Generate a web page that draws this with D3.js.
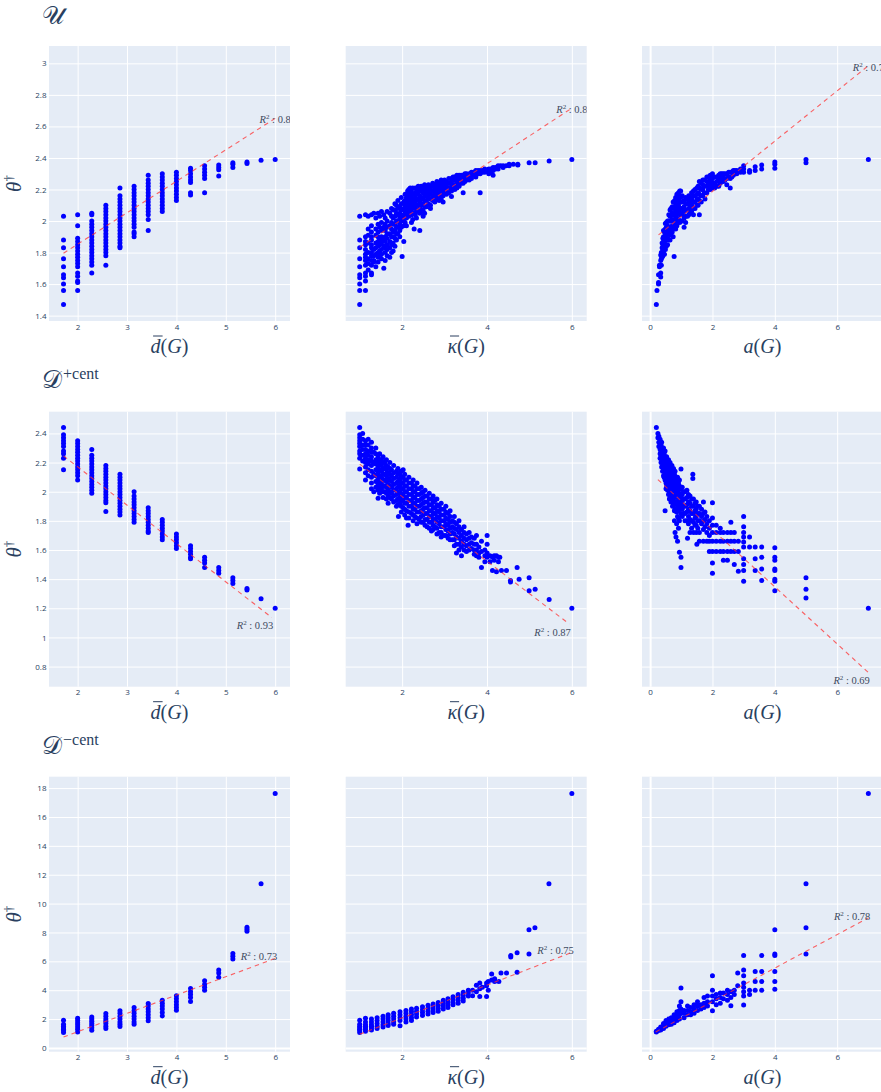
<!DOCTYPE html>
<html>
<head>
<meta charset="utf-8">
<script src="https://cdn.jsdelivr.net/npm/d3@7"></script>
<style>
	body { margin: 0; background: #fff; }
	svg { display: block; }
</style>
</head>
<body>
<div id="chart"></div>
<script>
//	x positions of the d(G) columns (multiples of 2/7)
var dbarX = [1.714, 2, 2.286, 2.571, 2.857, 3.143, 3.429, 3.714, 4, 4.286, 4.571, 4.857, 5.143, 5.429, 5.714, 6];

//	theta per d(G) column
var dbarU = [
	[2.03, 1.88, 1.83, 1.76, 1.71, 1.66, 1.64, 1.60, 1.56, 1.47],
	[2.04, 1.97, 1.89, 1.87, 1.85, 1.83, 1.81, 1.79, 1.77, 1.75, 1.73, 1.71, 1.67, 1.65, 1.62, 1.61, 1.56],
	[2.05, 2.04, 2.0, 1.98, 1.96, 1.94, 1.92, 1.90, 1.88, 1.86, 1.84, 1.82, 1.80, 1.78, 1.76, 1.74, 1.72, 1.67],
	[2.10, 2.08, 2.06, 2.04, 2.02, 2.0, 1.98, 1.96, 1.94, 1.92, 1.90, 1.88, 1.86, 1.84, 1.82, 1.80, 1.78, 1.72],
	[2.21, 2.16, 2.14, 2.12, 2.10, 2.08, 2.06, 2.04, 2.02, 2.0, 1.98, 1.96, 1.94, 1.92, 1.90, 1.88, 1.86, 1.84, 1.83],
	[2.22, 2.20, 2.18, 2.16, 2.14, 2.12, 2.10, 2.08, 2.06, 2.04, 2.02, 2.0, 1.98, 1.96, 1.93, 1.92, 1.90],
	[2.29, 2.26, 2.24, 2.22, 2.20, 2.18, 2.16, 2.14, 2.12, 2.10, 2.08, 2.06, 2.04, 2.01, 1.94],
	[2.30, 2.28, 2.26, 2.24, 2.22, 2.20, 2.18, 2.16, 2.14, 2.12, 2.10, 2.08, 2.06],
	[2.31, 2.29, 2.27, 2.25, 2.23, 2.21, 2.19, 2.17, 2.15, 2.13],
	[2.335, 2.32, 2.30, 2.28, 2.26, 2.245, 2.18, 2.165],
	[2.35, 2.33, 2.31, 2.29, 2.27, 2.18],
	[2.355, 2.34, 2.325, 2.285],
	[2.37, 2.36, 2.34],
	[2.375, 2.365],
	[2.385],
	[2.39]
];
var dbarP = [
	[2.44, 2.39, 2.37, 2.35, 2.33, 2.31, 2.28, 2.26, 2.23, 2.15],
	[2.35, 2.33, 2.31, 2.29, 2.27, 2.25, 2.23, 2.21, 2.19, 2.17, 2.15, 2.13, 2.11, 2.08],
	[2.29, 2.25, 2.23, 2.21, 2.19, 2.17, 2.15, 2.13, 2.11, 2.09, 2.07, 2.05, 2.03, 2.01, 1.99],
	[2.18, 2.16, 2.14, 2.12, 2.10, 2.08, 2.06, 2.04, 2.02, 2.0, 1.98, 1.96, 1.94, 1.925, 1.865],
	[2.12, 2.10, 2.08, 2.06, 2.04, 2.02, 2.0, 1.98, 1.96, 1.94, 1.92, 1.90, 1.88, 1.86, 1.84],
	[2.0, 1.97, 1.95, 1.93, 1.91, 1.89, 1.87, 1.85, 1.83, 1.81, 1.79],
	[1.89, 1.87, 1.85, 1.83, 1.81, 1.79, 1.77, 1.75, 1.73, 1.72],
	[1.81, 1.79, 1.77, 1.75, 1.73, 1.71, 1.69, 1.67],
	[1.71, 1.69, 1.67, 1.65, 1.63, 1.61],
	[1.63, 1.61, 1.59, 1.57, 1.55, 1.54],
	[1.55, 1.53, 1.51, 1.48],
	[1.48, 1.46, 1.44],
	[1.41, 1.39, 1.37],
	[1.335, 1.325],
	[1.265],
	[1.20]
];
var dbarM = [
	[1.92, 1.64, 1.5, 1.4, 1.3, 1.2, 1.07],
	[2.06, 1.9, 1.75, 1.6, 1.45, 1.3, 1.11],
	[2.15, 2.0, 1.85, 1.7, 1.55, 1.4, 1.23],
	[2.39, 2.2, 2.0, 1.85, 1.7, 1.5, 1.34],
	[2.57, 2.4, 2.2, 2.0, 1.8, 1.65, 1.48],
	[2.8, 2.6, 2.4, 2.2, 2.0, 1.8, 1.64],
	[3.08, 2.9, 2.7, 2.5, 2.3, 2.1, 1.88],
	[3.31, 3.1, 2.9, 2.7, 2.45, 2.22],
	[3.61, 3.4, 3.2, 3.0, 2.8, 2.62],
	[4.12, 3.9, 3.7, 3.5, 3.22],
	[4.65, 4.4, 4.2, 4.0],
	[5.4, 5.2, 4.9],
	[6.55, 6.35, 6.16],
	[8.36, 8.22, 8.08],
	[11.37],
	[17.63]
];

//	[kappa, [theta...]]
var kappaU = [
	[1.0, [2.03, 1.88, 1.83, 1.76, 1.71, 1.66, 1.64, 1.60, 1.56, 1.47]],
	[1.136, [2.04, 1.90, 1.87, 1.85, 1.82, 1.79, 1.77, 1.75, 1.72, 1.67, 1.65, 1.62, 1.56]],
	[1.2, [2.03, 1.95, 1.91, 1.86, 1.80, 1.76, 1.73, 1.69]],
	[1.277, [2.04, 1.97, 1.93, 1.90, 1.88, 1.85, 1.83, 1.80, 1.78, 1.75, 1.72, 1.67, 1.66]],
	[1.332, [2.05, 1.82, 1.78, 1.75, 1.74]],
	[1.38, [2.02, 1.95, 1.91, 1.86, 1.83, 1.79, 1.71]],
	[1.434, [2.05, 1.98, 1.93, 1.90, 1.87, 1.84, 1.80, 1.77, 1.74]],
	[1.47, [2.03, 1.96, 1.88, 1.85, 1.81, 1.78]],
	[1.513, [2.06, 1.99, 1.94, 1.90, 1.86, 1.82, 1.79, 1.76]],
	[1.568, [2.04, 1.96, 1.88, 1.84, 1.70]],
	[1.6, [2.02, 1.98, 1.94, 1.90, 1.87, 1.83, 1.80, 1.75]],
	[1.646, [2.06, 2.00, 1.96, 1.92, 1.89, 1.85, 1.82, 1.78]],
	[1.709, [2.05, 1.97, 1.92, 1.87, 1.83, 1.77]],
	[1.75, [2.08, 2.03, 1.99, 1.95, 1.90, 1.85, 1.80]],
	[1.788, [2.07, 2.02, 1.98, 1.93, 1.90, 1.86, 1.81]],
	[1.83, [2.11, 2.07, 2.03, 1.98, 1.94, 1.89, 1.84]],
	[1.866, [2.10, 2.05, 2.00, 1.96, 1.92, 1.88]],
	[1.9, [2.13, 2.08, 2.04, 2.0, 1.96, 1.92]],
	[1.945, [2.09, 2.05, 2.02, 1.98, 1.94, 1.90]],
	[1.98, [2.15, 2.11, 2.07, 2.03, 2.0, 1.96]],
	[2.0, [1.775]],
	[2.039, [2.12, 2.08, 2.04, 2.01, 1.97, 1.87]],
	[2.07, [2.17, 2.13, 2.10, 2.06, 2.03, 1.99]],
	[2.102, [2.15, 2.12, 2.08, 2.05, 2.02, 1.97]],
	[2.13, [2.19, 2.16, 2.11, 2.07, 2.04]],
	[2.157, [2.20, 2.18, 2.14, 2.10, 2.06, 2.03]],
	[2.19, [2.21, 2.17, 2.13, 2.09, 2.05]],
	[2.22, [2.19, 2.15, 2.11, 2.07, 2.04, 1.99]],
	[2.25, [2.21, 2.17, 2.13, 2.09, 2.05, 2.01]],
	[2.283, [2.13, 2.09, 1.95]],
	[2.31, [2.21, 2.18, 2.15, 2.11, 2.08, 2.04]],
	[2.338, [2.20, 2.17, 2.13, 2.10, 2.06, 2.02]],
	[2.38, [2.22, 2.18, 2.14, 2.10, 2.07]],
	[2.416, [2.20, 2.16, 2.12, 2.08, 2.05, 1.94]],
	[2.45, [2.22, 2.19, 2.14, 2.10, 2.06]],
	[2.495, [2.21, 2.18, 2.15, 2.11, 2.07, 2.03]],
	[2.53, [2.23, 2.20, 2.17, 2.13, 2.09, 2.05]],
	[2.573, [2.22, 2.19, 2.16, 2.13, 2.09]],
	[2.62, [2.23, 2.21, 2.18, 2.15, 2.11]],
	[2.668, [2.22, 2.20, 2.17, 2.14, 2.10, 2.08]],
	[2.72, [2.24, 2.22, 2.19, 2.16, 2.13]],
	[2.77, [2.23, 2.21, 2.18, 2.15, 2.12]],
	[2.82, [2.25, 2.22, 2.20, 2.17, 2.14]],
	[2.872, [2.24, 2.21, 2.19, 2.16, 2.13]],
	[2.92, [2.26, 2.23, 2.20, 2.17, 2.14]],
	[2.966, [2.25, 2.22, 2.19, 2.16, 2.12]],
	[3.0, [2.26, 2.24, 2.21, 2.18]],
	[3.045, [2.25, 2.23, 2.20, 2.17]],
	[3.1, [2.27, 2.24, 2.21, 2.18]],
	[3.163, [2.27, 2.25, 2.22, 2.19, 2.155]],
	[3.2, [2.28, 2.26, 2.23, 2.21]],
	[3.241, [2.28, 2.26, 2.23, 2.20]],
	[3.29, [2.29, 2.26, 2.24, 2.21]],
	[3.343, [2.29, 2.27, 2.25, 2.22]],
	[3.39, [2.29, 2.27, 2.24]],
	[3.438, [2.29, 2.27, 2.24, 2.18]],
	[3.48, [2.30, 2.28, 2.25]],
	[3.516, [2.30, 2.28, 2.26]],
	[3.58, [2.30, 2.28, 2.26]],
	[3.634, [2.31, 2.29, 2.27]],
	[3.68, [2.31, 2.29]],
	[3.736, [2.32, 2.30, 2.28]],
	[3.79, [2.32, 2.30]],
	[3.839, [2.32, 2.30, 2.18]],
	[3.89, [2.32, 2.31]],
	[3.949, [2.33, 2.31]],
	[4.042, [2.33, 2.32, 2.30]],
	[4.09, [2.33, 2.31]],
	[4.144, [2.34, 2.32, 2.29]],
	[4.2, [2.34, 2.33]],
	[4.262, [2.35, 2.33]],
	[4.32, [2.35]],
	[4.38, [2.35, 2.34]],
	[4.45, [2.35]],
	[4.522, [2.36, 2.35]],
	[4.62, [2.36]],
	[4.726, [2.36, 2.355]],
	[4.993, [2.37]],
	[5.135, [2.37]],
	[5.465, [2.38]],
	[6.0, [2.39]]
];
var kappaP = [
	[1.0, [2.44, 2.39, 2.37, 2.35, 2.33, 2.31, 2.28, 2.26, 2.23, 2.155]],
	[1.07, [2.40, 2.36, 2.32, 2.29, 2.25, 2.21]],
	[1.136, [2.35, 2.32, 2.29, 2.26, 2.23, 2.20, 2.17, 2.13, 2.08]],
	[1.2, [2.36, 2.32, 2.28, 2.25, 2.22, 2.19, 2.15, 2.11]],
	[1.277, [2.34, 2.30, 2.27, 2.24, 2.21, 2.18, 2.14, 2.10, 2.06, 2.02]],
	[1.332, [2.27, 2.20, 2.12, 2.0]],
	[1.38, [2.30, 2.26, 2.22, 2.19, 2.15, 2.11, 2.07, 2.03]],
	[1.434, [2.24, 2.21, 2.17, 2.13, 2.09, 2.05, 2.01, 1.955]],
	[1.47, [2.26, 2.22, 2.19, 2.15, 2.11, 2.07, 2.03, 1.99]],
	[1.513, [2.22, 2.18, 2.14, 2.10, 2.06, 2.02]],
	[1.55, [2.24, 2.20, 2.16, 2.12, 2.08, 2.04, 2.0, 1.96]],
	[1.591, [2.20, 2.16, 2.12, 2.08, 2.04, 2.0]],
	[1.63, [2.22, 2.18, 2.15, 2.11, 2.07, 2.03, 1.99, 1.95]],
	[1.67, [2.17, 2.13, 2.09, 2.05, 2.01, 1.97, 1.92]],
	[1.71, [2.20, 2.16, 2.12, 2.08, 2.04, 2.0, 1.96]],
	[1.749, [2.15, 2.11, 2.07, 2.03, 1.99, 1.95]],
	[1.8, [2.18, 2.13, 2.09, 2.05, 2.01, 1.97, 1.93]],
	[1.866, [2.14, 2.10, 2.06, 2.02, 1.98, 1.94, 1.90]],
	[1.9, [2.16, 2.12, 2.07, 2.03, 1.99, 1.95, 1.91]],
	[1.914, [1.83]],
	[1.945, [2.12, 2.08, 2.04, 2.0, 1.96, 1.92]],
	[1.98, [2.14, 2.10, 2.06, 2.02, 1.98, 1.94, 1.90, 1.86]],
	[2.024, [2.15, 2.10, 2.06, 2.02, 1.98, 1.94, 1.89]],
	[2.06, [2.12, 2.08, 2.04, 2.0, 1.96, 1.92, 1.88, 1.84]],
	[2.102, [2.08, 2.04, 2.00, 1.96, 1.92, 1.87, 1.82]],
	[2.141, [1.77]],
	[2.16, [2.10, 2.06, 2.02, 1.98, 1.94, 1.90, 1.86, 1.82]],
	[2.22, [2.06, 2.02, 1.98, 1.94, 1.90, 1.85]],
	[2.26, [2.08, 2.04, 2.0, 1.96, 1.92, 1.88, 1.84, 1.80]],
	[2.299, [2.04, 2.0, 1.96, 1.92, 1.88, 1.83]],
	[2.35, [2.06, 2.02, 1.98, 1.94, 1.90, 1.86, 1.82, 1.78]],
	[2.401, [2.02, 1.98, 1.94, 1.90, 1.86, 1.81]],
	[2.45, [2.03, 1.99, 1.95, 1.91, 1.87, 1.83, 1.79]],
	[2.495, [2.0, 1.96, 1.92, 1.88, 1.84, 1.79]],
	[2.54, [2.01, 1.97, 1.93, 1.89, 1.85, 1.81, 1.77]],
	[2.589, [1.97, 1.93, 1.89, 1.85, 1.81, 1.76]],
	[2.64, [1.99, 1.95, 1.91, 1.87, 1.83, 1.79, 1.75]],
	[2.691, [1.95, 1.91, 1.87, 1.83, 1.79, 1.73]],
	[2.73, [1.97, 1.93, 1.89, 1.85, 1.81, 1.77, 1.74]],
	[2.77, [1.94, 1.89, 1.85, 1.81, 1.76]],
	[2.82, [1.95, 1.91, 1.87, 1.83, 1.79, 1.75, 1.71]],
	[2.872, [1.90, 1.86, 1.82, 1.78, 1.72]],
	[2.92, [1.92, 1.88, 1.84, 1.80, 1.76, 1.72, 1.69]],
	[2.982, [1.88, 1.84, 1.80, 1.76, 1.70]],
	[3.03, [1.90, 1.86, 1.82, 1.78, 1.74, 1.70]],
	[3.084, [1.85, 1.81, 1.77, 1.73, 1.68]],
	[3.13, [1.87, 1.83, 1.79, 1.75, 1.71, 1.67]],
	[3.186, [1.80, 1.76, 1.72, 1.67]],
	[3.23, [1.83, 1.79, 1.75, 1.71, 1.67, 1.63]],
	[3.28, [1.78, 1.74, 1.69, 1.64, 1.58]],
	[3.34, [1.80, 1.76, 1.72, 1.68, 1.64, 1.60]],
	[3.398, [1.74, 1.70, 1.66, 1.62, 1.56]],
	[3.46, [1.76, 1.72, 1.68, 1.64, 1.60]],
	[3.516, [1.71, 1.67, 1.63, 1.59]],
	[3.58, [1.72, 1.68, 1.64, 1.60]],
	[3.634, [1.69, 1.65, 1.61]],
	[3.7, [1.68, 1.64, 1.60, 1.57]],
	[3.752, [1.70, 1.64, 1.60, 1.56]],
	[3.81, [1.62, 1.58, 1.55]],
	[3.87, [1.66, 1.59, 1.48]],
	[3.95, [1.60, 1.56, 1.52]],
	[4.003, [1.70, 1.64, 1.58, 1.55]],
	[4.07, [1.56, 1.52]],
	[4.129, [1.55, 1.46]],
	[4.17, [1.56, 1.53]],
	[4.223, [1.56, 1.45]],
	[4.27, [1.55, 1.52]],
	[4.302, [1.55]],
	[4.341, [1.46]],
	[4.459, [1.46]],
	[4.553, [1.39, 1.38]],
	[4.71, [1.48]],
	[4.757, [1.40]],
	[4.993, [1.41, 1.32]],
	[5.135, [1.33]],
	[5.465, [1.26]],
	[6.0, [1.20]]
];
var kappaM = [
	[1.0, [1.92, 1.64, 1.5, 1.4, 1.3, 1.2, 1.07]],
	[1.136, [2.06, 1.8, 1.6, 1.5, 1.4, 1.3, 1.15]],
	[1.277, [2.0, 1.8, 1.6, 1.5, 1.4, 1.25]],
	[1.41, [2.1, 1.9, 1.7, 1.5, 1.35]],
	[1.55, [2.2, 2.0, 1.8, 1.6, 1.45]],
	[1.67, [2.3, 2.1, 1.9, 1.7, 1.55]],
	[1.80, [2.4, 2.2, 2.0, 1.8, 1.65]],
	[1.95, [2.5, 2.3, 2.1, 1.9, 1.53]],
	[2.09, [2.6, 2.4, 2.2, 2.0, 1.8]],
	[2.22, [2.7, 2.5, 2.3, 2.1, 1.9]],
	[2.34, [2.75, 2.55, 2.35, 2.15]],
	[2.48, [2.85, 2.65, 2.45, 2.25]],
	[2.61, [2.95, 2.75, 2.55, 2.35]],
	[2.73, [3.05, 2.85, 2.65, 2.45]],
	[2.85, [3.15, 2.95, 2.75, 2.55]],
	[2.97, [3.3, 3.1, 2.9, 2.7]],
	[3.08, [3.4, 3.2, 3.0, 2.8]],
	[3.20, [3.55, 3.35, 3.15, 3.0]],
	[3.32, [3.7, 3.5, 3.3, 3.1]],
	[3.44, [3.85, 3.65, 3.45, 3.25]],
	[3.56, [4.0, 3.8, 3.6]],
	[3.66, [4.0, 3.61]],
	[3.75, [4.35, 3.9]],
	[3.83, [4.5, 4.1, 3.57]],
	[3.89, [4.2]],
	[3.99, [4.5, 4.3, 3.57]],
	[4.03, [4.6, 4.0]],
	[4.11, [5.12, 4.7]],
	[4.18, [4.8, 4.6]],
	[4.28, [4.6]],
	[4.33, [5.2]],
	[4.46, [5.2]],
	[4.56, [6.3, 6.4]],
	[4.71, [5.25, 6.6]],
	[4.99, [6.5, 8.18]],
	[5.13, [8.32]],
	[5.46, [11.37]],
	[6.0, [17.63]]
];

//	[a, [theta...]]
var aU = [
	[0.2, [1.47]],
	[0.22, [1.56]],
	[0.27, [1.61, 1.60, 1.66]],
	[0.3, [1.71, 1.72]],
	[0.34, [1.785, 1.75, 1.67, 1.645]],
	[0.36, [1.80, 1.76, 1.72]],
	[0.385, [1.86, 1.83, 1.80, 1.77]],
	[0.41, [1.89, 1.85, 1.82, 1.78]],
	[0.43, [1.94, 1.90, 1.87, 1.84, 1.81]],
	[0.46, [1.93, 1.89, 1.86, 1.83, 1.79]],
	[0.49, [1.985, 1.95, 1.91, 1.88, 1.84, 1.82]],
	[0.52, [1.99, 1.96, 1.92, 1.88, 1.84]],
	[0.56, [2.0, 1.97, 1.93, 1.89, 1.85]],
	[0.6, [2.04, 2.0, 1.96, 1.92, 1.88]],
	[0.64, [2.07, 2.03, 2.0, 1.95, 1.92, 1.88]],
	[0.67, [2.08, 2.04, 2.0, 1.96, 1.91]],
	[0.71, [2.09, 2.05, 2.01, 1.97, 1.93]],
	[0.74, [2.12, 2.08, 2.04, 2.0, 1.95, 1.90]],
	[0.77, [1.775]],
	[0.79, [2.13, 2.09, 2.05, 2.01, 1.97]],
	[0.82, [2.15, 2.11, 2.07, 2.03, 1.99, 1.95]],
	[0.86, [2.17, 2.13, 2.09, 2.05, 2.01, 1.97]],
	[0.91, [2.18, 2.14, 2.10, 2.06, 2.01]],
	[0.95, [2.19, 2.16, 2.12, 2.08, 2.04, 1.99]],
	[0.98, [2.19, 2.15, 2.12, 2.08, 2.05, 2.0]],
	[1.03, [2.16, 2.12, 2.08, 2.04, 2.0]],
	[1.09, [2.13, 2.09, 2.06, 2.02, 1.96]],
	[1.14, [2.15, 2.11, 2.07, 2.03, 1.99]],
	[1.2, [2.14, 2.11, 2.07, 2.03]],
	[1.24, [2.16, 2.12, 2.08, 2.04]],
	[1.28, [2.15, 2.12, 2.09, 2.05]],
	[1.33, [2.18, 2.14, 2.10, 2.06]],
	[1.39, [2.19, 2.16, 2.12, 2.08, 2.04]],
	[1.44, [2.20, 2.16, 2.12, 2.08]],
	[1.5, [2.21, 2.17, 2.14, 2.10]],
	[1.54, [2.22, 2.18, 2.14, 2.10]],
	[1.58, [2.25, 2.21, 2.17, 2.13, 2.04]],
	[1.64, [2.24, 2.20, 2.16, 2.12]],
	[1.69, [2.26, 2.23, 2.20, 2.16]],
	[1.74, [2.26, 2.22, 2.18]],
	[1.76, [2.14]],
	[1.82, [2.28, 2.25, 2.22, 2.18]],
	[1.87, [2.28, 2.24, 2.20]],
	[1.93, [2.29, 2.26, 2.23, 2.20]],
	[1.97, [2.29, 2.25, 2.21]],
	[2.0, [2.30, 2.27, 2.24, 2.22]],
	[2.07, [2.28, 2.24, 2.21]],
	[2.14, [2.28, 2.25, 2.22]],
	[2.2, [2.29, 2.26, 2.22]],
	[2.25, [2.30, 2.27, 2.24]],
	[2.3, [2.30, 2.27]],
	[2.35, [2.30, 2.28, 2.25]],
	[2.4, [2.30, 2.26]],
	[2.46, [2.30, 2.27, 2.23]],
	[2.52, [2.31, 2.28]],
	[2.57, [2.31, 2.27, 2.21]],
	[2.62, [2.31, 2.28]],
	[2.67, [2.32, 2.29]],
	[2.72, [2.32, 2.30]],
	[2.78, [2.32, 2.30]],
	[2.9, [2.33, 2.31]],
	[3.0, [2.35, 2.33, 2.31]],
	[3.19, [2.32, 2.31]],
	[3.37, [2.345, 2.32]],
	[3.58, [2.355, 2.33]],
	[4.0, [2.375, 2.36, 2.335]],
	[5.0, [2.39, 2.37]],
	[7.0, [2.39]]
];
var aP = [
	[0.2, [2.44]],
	[0.25, [2.40, 2.37]],
	[0.28, [2.38, 2.34, 2.31]],
	[0.32, [2.36, 2.32, 2.29, 2.26, 2.23]],
	[0.35, [2.32, 2.28, 2.24, 2.20]],
	[0.37, [2.34, 2.30, 2.27, 2.24, 2.21, 2.17]],
	[0.4, [2.30, 2.26, 2.22, 2.18, 2.14]],
	[0.43, [2.30, 2.26, 2.22, 2.19, 2.15, 2.11]],
	[0.45, [2.26, 2.22, 2.18, 2.14, 2.10]],
	[0.48, [2.28, 2.24, 2.20, 2.16, 2.12, 2.08, 1.87]],
	[0.51, [2.22, 2.18, 2.14, 2.10, 2.06, 2.02]],
	[0.53, [2.24, 2.20, 2.16, 2.12, 2.08, 2.04]],
	[0.56, [2.21, 2.17, 2.13, 2.09, 2.05, 2.01]],
	[0.59, [2.22, 2.18, 2.14, 2.10, 2.06, 2.02, 1.98]],
	[0.62, [2.19, 2.15, 2.11, 2.07, 2.03, 1.99, 1.95]],
	[0.64, [2.20, 2.16, 2.12, 2.08, 2.04, 2.0, 1.96]],
	[0.67, [2.17, 2.13, 2.09, 2.05, 2.01, 1.97, 1.93]],
	[0.7, [2.18, 2.14, 2.10, 2.06, 2.02, 1.98, 1.93]],
	[0.72, [2.15, 2.11, 2.07, 2.03, 1.99, 1.95, 1.90]],
	[0.75, [2.16, 2.12, 2.08, 2.04, 2.0, 1.96, 1.91]],
	[0.78, [2.12, 2.08, 2.04, 2.0, 1.96, 1.92, 1.87, 1.80]],
	[0.8, [2.14, 2.10, 2.06, 2.02, 1.98, 1.93, 1.88, 1.72]],
	[0.83, [1.69]],
	[0.85, [2.08, 2.04, 2.0, 1.96, 1.91, 1.86, 1.78]],
	[0.88, [2.10, 2.06, 2.02, 1.98, 1.93, 1.88, 1.83, 1.66]],
	[0.91, [2.06, 2.02, 1.97, 1.92, 1.87, 1.82, 1.75]],
	[0.94, [2.08, 2.04, 1.99, 1.94, 1.89, 1.80, 1.585]],
	[0.99, [2.155, 2.02, 1.96, 1.90, 1.85, 1.55, 1.48]],
	[1.03, [2.03, 1.98, 1.93, 1.88, 1.83]],
	[1.07, [2.0, 1.95, 1.90, 1.85]],
	[1.12, [2.0, 1.95, 1.90, 1.85, 1.80]],
	[1.18, [2.01, 1.96, 1.91, 1.86, 1.80]],
	[1.2, [1.68]],
	[1.23, [1.98, 1.93, 1.88, 1.83, 1.78]],
	[1.28, [1.97, 1.92, 1.87, 1.81, 1.72]],
	[1.33, [1.95, 1.90, 1.85, 1.80, 1.75]],
	[1.37, [2.12, 2.09]],
	[1.39, [1.95, 1.90, 1.85, 1.79, 1.72]],
	[1.44, [1.92, 1.87, 1.82, 1.77]],
	[1.48, [1.93, 1.88, 1.83, 1.77, 1.72]],
	[1.5, [1.64]],
	[1.53, [1.90, 1.85, 1.80, 1.75]],
	[1.58, [1.90, 1.85, 1.80, 1.72, 1.66]],
	[1.65, [1.88, 1.83, 1.78]],
	[1.71, [1.93, 1.85, 1.80, 1.74, 1.66]],
	[1.76, [1.86, 1.81, 1.76]],
	[1.82, [1.83, 1.78, 1.72, 1.66]],
	[1.9, [1.80, 1.75, 1.70, 1.66, 1.59]],
	[2.0, [1.925, 1.82, 1.77, 1.72, 1.66, 1.59, 1.51, 1.44]],
	[2.12, [1.77, 1.72, 1.66, 1.59]],
	[2.25, [1.75, 1.72, 1.66, 1.59]],
	[2.35, [1.72, 1.66, 1.59, 1.53]],
	[2.48, [1.72, 1.66, 1.59, 1.53]],
	[2.59, [1.79, 1.72, 1.66, 1.59]],
	[2.7, [1.72, 1.66, 1.59, 1.50]],
	[2.83, [1.66, 1.59, 1.454]],
	[3.0, [1.83, 1.76, 1.72, 1.69, 1.655, 1.62, 1.54, 1.50, 1.46, 1.385]],
	[3.19, [1.69, 1.62]],
	[3.37, [1.62, 1.54, 1.46]],
	[3.58, [1.62, 1.55, 1.47, 1.39]],
	[4.0, [1.615, 1.55, 1.53, 1.47, 1.46, 1.40, 1.385, 1.32]],
	[5.0, [1.41, 1.33, 1.27]],
	[7.0, [1.20]]
];
var aM = [
	[0.2, [1.15, 1.1]],
	[0.27, [1.3, 1.2]],
	[0.34, [1.45, 1.35, 1.25]],
	[0.43, [1.7, 1.55, 1.45, 1.35]],
	[0.51, [1.9, 1.7, 1.6, 1.5]],
	[0.6, [2.0, 1.85, 1.7, 1.6]],
	[0.68, [2.1, 1.95, 1.8, 1.65]],
	[0.77, [2.3, 2.1, 1.9, 1.75]],
	[0.86, [2.5, 2.3, 2.1, 1.9]],
	[0.94, [2.9, 2.6, 2.3, 2.0]],
	[0.99, [4.15, 3.2, 2.7, 2.4]],
	[1.09, [2.6, 2.4, 2.1]],
	[1.2, [2.9, 2.6, 2.3]],
	[1.3, [2.8, 2.5, 2.3]],
	[1.41, [3.0, 2.7, 2.4]],
	[1.52, [3.2, 2.9, 2.6]],
	[1.63, [3.0, 2.7]],
	[1.73, [3.5, 3.1, 2.8]],
	[1.84, [3.6, 3.2, 2.9]],
	[2.0, [5.0, 4.0, 3.6, 3.2, 2.57]],
	[2.12, [3.7, 3.4, 3.0]],
	[2.25, [3.8, 3.5, 3.1]],
	[2.35, [3.8, 3.4]],
	[2.48, [4.0, 3.7, 3.3]],
	[2.59, [3.9, 3.5, 2.92]],
	[2.7, [4.0, 3.7]],
	[2.81, [5.2, 4.3]],
	[3.0, [6.4, 5.4, 5.0, 4.5, 4.2, 3.9, 3.6, 2.97]],
	[3.19, [4.0, 3.7]],
	[3.37, [5.3, 4.6, 4.0]],
	[3.58, [6.4, 5.3, 4.6, 4.0]],
	[4.0, [8.18, 6.5, 6.4, 5.3, 4.6, 4.07]],
	[5.0, [11.37, 8.32, 6.5]],
	[7.0, [17.63]]
];

//	fitted lines: [x0, y0, x1, y1] for the d, kappa and a panels
var fitU = [[1.714, 1.796, 6.0, 2.651], [1.0, 1.834, 6.0, 2.716], [0.27, 1.912, 7.0, 2.985]];
var fitP = [[1.714, 2.246, 5.93, 1.137], [1.0, 2.189, 5.94, 1.092], [0.25, 2.083, 7.0, 0.759]];
var fitM = [[1.714, 0.76, 6.0, 6.2], [1.0, 0.95, 6.0, 6.62], [0.18, 1.11, 7.0, 9.01]];

var r2U = ["0.8", "0.8", "0.7"];
var r2P = ["0.93", "0.87", "0.69"];
var r2M = ["0.73", "0.75", "0.78"];

var yTicksU = [1.4, 1.6, 1.8, 2, 2.2, 2.4, 2.6, 2.8, 3];
var yTicksP = [0.8, 1, 1.2, 1.4, 1.6, 1.8, 2, 2.2, 2.4];
var yTicksM = [0, 2, 4, 6, 8, 10, 12, 14, 16, 18];
var xTicks = [[2, 3, 4, 5, 6], [2, 4, 6], [0, 2, 4, 6]];

var yDomU = [1.366, 3.11],
	yDomP = [0.662, 2.549],
	yDomM = [-0.26, 18.79];
var xDomains = [[1.42, 6.30], [0.67, 6.35], [-0.26, 7.47]];

//	layout
var W = 881, H = 1092;
var colX = [49, 345.7, 642],
	rowY = [46, 411.7, 776.7],
	plotW = 241,
	plotH = 275;

var ink = "#2a3f5f",
	bg = "#E5ECF6",
	mathFont = "'Liberation Serif', 'DejaVu Serif', serif",
	tickFont = "'Open Sans', 'DejaVu Sans', sans-serif";

var rows = [
	{ title: "\u{1D4B0}", sup: "", cols: [dbarU, kappaU, aU], fits: fitU, r2: r2U, yDom: yDomU, yTicks: yTicksU, r2Pos: "center" },
	{ title: "\u{1D49F}", sup: "+cent", cols: [dbarP, kappaP, aP], fits: fitP, r2: r2P, yDom: yDomP, yTicks: yTicksP, r2Pos: "below" },
	{ title: "\u{1D49F}", sup: "\u2212cent", cols: [dbarM, kappaM, aM], fits: fitM, r2: r2M, yDom: yDomM, yTicks: yTicksM, r2Pos: "left" }
];

//	axis titles as [glyph, italic, overline]
var xTitles = [
	[["d", true, true], ["(", false], ["G", true], [")", false]],
	[["\u03BA", true, true], ["(", false], ["G", true], [")", false]],
	[["a", true], ["(", false], ["G", true], [")", false]]
];

var svg = d3.select("#chart")
	.append("svg")
	.attr("width", W)
	.attr("height", H);

svg.append("rect")
	.attr("width", W)
	.attr("height", H)
	.attr("fill", "#fff");

rows.forEach(function(row, r) {
	rowTitle(row, r);
	yTitle(r);
	for (var c = 0; c < 3; c++) panel(row, r, c);
});

function fmt(d) {
	return String(+d.toFixed(2));
}

function points(row, c) {
	var pts = [];
	if (c === 0) {
		row.cols[0].forEach(function(ys, i) {
			ys.forEach(function(v) { pts.push([dbarX[i], v]); });
		});
	} else {
		row.cols[c].forEach(function(col) {
			col[1].forEach(function(v) { pts.push([col[0], v]); });
		});
	}
	return pts;
}

function panel(row, r, c) {
	var left = colX[c], top = rowY[r];
	var x = d3.scaleLinear().domain(xDomains[c]).range([0, plotW]);
	var y = d3.scaleLinear().domain(row.yDom).range([plotH, 0]);

	var g = svg.append("g")
		.attr("transform", "translate(" + left + "," + top + ")");

	var clipId = "clip-" + r + "-" + c;
	g.append("clipPath")
		.attr("id", clipId)
		.append("rect")
		.attr("width", plotW)
		.attr("height", plotH);

	g.append("rect")
		.attr("width", plotW)
		.attr("height", plotH)
		.attr("fill", bg);

	//	grid
	var gx = g.append("g")
		.attr("transform", "translate(0," + plotH + ")")
		.call(d3.axisBottom(x).tickValues(xTicks[c]).tickSize(-plotH).tickFormat(""));
	gx.select(".domain").remove();
	gx.selectAll("line")
		.attr("stroke", "#fff")
		.attr("stroke-width", function(d) { return d === 0 ? 2 : 1; });

	var gy = g.append("g")
		.call(d3.axisLeft(y).tickValues(row.yTicks).tickSize(-plotW).tickFormat(""));
	gy.select(".domain").remove();
	gy.selectAll("line")
		.attr("stroke", "#fff")
		.attr("stroke-width", function(d) { return d === 0 ? 2 : 1; });

	var inner = g.append("g")
		.attr("clip-path", "url(#" + clipId + ")");

	inner.selectAll("circle")
		.data(points(row, c))
		.join("circle")
		.attr("cx", function(d) { return x(d[0]); })
		.attr("cy", function(d) { return y(d[1]); })
		.attr("r", 2.5)
		.attr("fill", "#0000ff");

	var f = row.fits[c];
	inner.append("line")
		.attr("x1", x(f[0]))
		.attr("y1", y(f[1]))
		.attr("x2", x(f[2]))
		.attr("y2", y(f[3]))
		.attr("stroke", "#ff3333")
		.attr("stroke-opacity", 0.75)
		.attr("stroke-width", 1.1)
		.attr("stroke-dasharray", "4.5,4");

	//	R^2 label next to the line end
	var ex = x(f[2]), ey = y(f[3]);
	var lbl = inner.append("text")
		.attr("font-family", mathFont)
		.attr("font-size", 10.5)
		.attr("fill", "#3d4a5e");
	if (row.r2Pos === "center") {
		lbl.attr("x", ex).attr("y", ey + 5).attr("text-anchor", "middle");
	} else if (row.r2Pos === "below") {
		lbl.attr("x", ex + 1.5).attr("y", ey + 11.5).attr("text-anchor", "end");
	} else {
		lbl.attr("x", ex + 2).attr("y", ey + 2).attr("text-anchor", "end");
	}
	lbl.append("tspan").attr("font-style", "italic").text("R");
	lbl.append("tspan").attr("font-size", 7).attr("dy", -4).text("2");
	lbl.append("tspan").attr("dy", 4).text(" : " + row.r2[c]);

	//	tick labels
	var ax = g.append("g")
		.attr("transform", "translate(0," + plotH + ")")
		.call(d3.axisBottom(x).tickValues(xTicks[c]).tickSize(0).tickPadding(3).tickFormat(fmt));
	ax.select(".domain").remove();
	ax.selectAll("text")
		.attr("fill", ink)
		.attr("font-family", tickFont)
		.attr("font-size", 8);

	if (c === 0) {
		var ay = g.append("g")
			.call(d3.axisLeft(y).tickValues(row.yTicks).tickSize(0).tickPadding(2.5).tickFormat(fmt));
		ay.select(".domain").remove();
		ay.selectAll("text")
			.attr("fill", ink)
			.attr("font-family", tickFont)
			.attr("font-size", 8);
	}

	xTitle(g, c);
}

function xTitle(g, c) {
	var base = plotH + 32;
	var t = g.append("text")
		.attr("x", plotW / 2)
		.attr("y", base)
		.attr("text-anchor", "middle")
		.attr("font-family", mathFont)
		.attr("font-size", 20)
		.attr("fill", ink);
	xTitles[c].forEach(function(p) {
		t.append("tspan")
			.attr("font-style", p[1] ? "italic" : "normal")
			.text(p[0]);
	});
	if (xTitles[c][0][2]) {
		var box = t.node().getExtentOfChar(0);
		g.append("line")
			.attr("x1", box.x + 2.5)
			.attr("x2", box.x + box.width + 2)
			.attr("y1", base - 17)
			.attr("y2", base - 17)
			.attr("stroke", ink)
			.attr("stroke-width", 1);
	}
}

function yTitle(r) {
	var cy = rowY[r] + plotH / 2;
	var t = svg.append("text")
		.attr("transform", "translate(21," + cy + ") rotate(-90)")
		.attr("text-anchor", "middle")
		.attr("font-family", mathFont)
		.attr("font-size", 21)
		.attr("fill", ink);
	t.append("tspan").attr("font-style", "italic").text("\u03B8");
	t.append("tspan").attr("font-size", 13).attr("dy", -8).text("\u2020");
}

function rowTitle(row, r) {
	var base = [24, 388, 754][r];
	var t = svg.append("text")
		.attr("x", 42)
		.attr("y", base)
		.attr("font-family", "'DejaVu Serif', 'DejaVu Sans', serif")
		.attr("font-size", 25)
		.attr("fill", ink)
		.text(row.title);
	if (row.sup) {
		t.append("tspan")
			.attr("font-family", mathFont)
			.attr("font-size", 16)
			.attr("dy", -9)
			.attr("dx", 1)
			.text(row.sup);
	}
}
</script>
</body>
</html>
